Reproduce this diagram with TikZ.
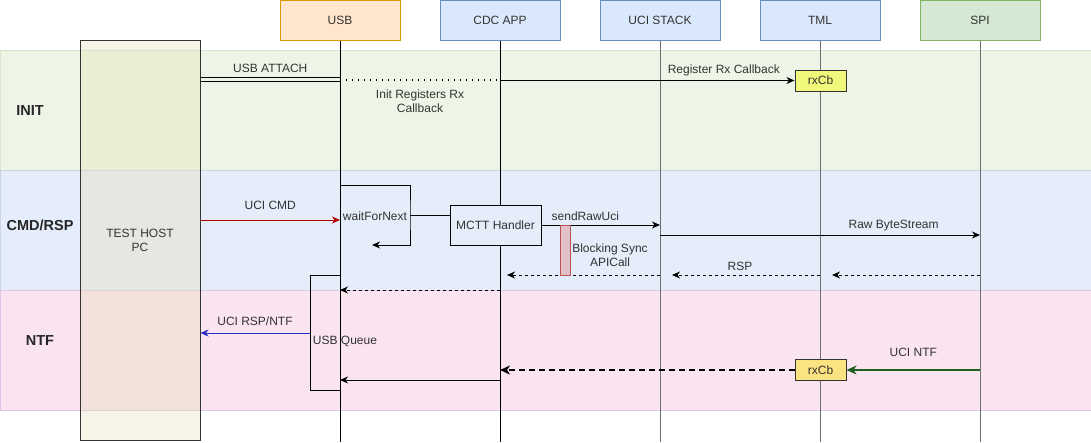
\documentclass[tikz,border=0pt]{standalone}
\usepackage{fontspec}
\setmainfont{Liberation Sans}
\usetikzlibrary{shapes,arrows.meta}
\definecolor{fondinit}{HTML}{EEF4E6}
\definecolor{bordinit}{HTML}{D8E5CC}
\definecolor{fondcmd}{HTML}{E5ECFA}
\definecolor{bordcmd}{HTML}{C8D6E2}
\definecolor{fondntf}{HTML}{FAE4F0}
\definecolor{bordntf}{HTML}{DCC8E6}
\definecolor{fondhote}{HTML}{E6E0B8}
\definecolor{fondusb}{HTML}{FFE6CC}
\definecolor{bordusb}{HTML}{D79B00}
\definecolor{fondbleu}{HTML}{DAE8FC}
\definecolor{bordbleu}{HTML}{6C8EBF}
\definecolor{fondvert}{HTML}{D5E8D4}
\definecolor{bordvert}{HTML}{82B366}
\definecolor{rappeljaune}{HTML}{F0F77A}
\definecolor{rappelor}{HTML}{FBE381}
\definecolor{blocrose}{HTML}{E3C1CB}
\definecolor{blocbord}{HTML}{B85450}
\definecolor{flecherouge}{HTML}{B20000}
\definecolor{flechebleue}{HTML}{2B2BC8}
\definecolor{flecheverte}{HTML}{1E5E1E}
\definecolor{texte}{HTML}{333333}
\definecolor{grisvie}{HTML}{6E6E6E}

\begin{document}
\begin{tikzpicture}[x=1pt,y=-1pt,font=\fontsize{12}{14}\selectfont,text=texte]
 \useasboundingbox (0,0) rectangle (1091,442);
 % style des noeuds
  \tikzstyle{bande}=[rectangle,inner sep=0pt,minimum width=1091pt,minimum height=120pt,anchor=north west]
  \tikzstyle{phase}=[font=\fontsize{14.5}{16}\selectfont\bfseries,text=black!85]
  \tikzstyle{acteur}=[rectangle,draw,line width=1pt,minimum width=120pt,minimum height=40pt]
  \tikzstyle{hote}=[rectangle,draw=black!80,line width=1pt,fill=fondhote,fill opacity=0.35,text opacity=1,minimum width=120pt,minimum height=400pt,align=center]
  \tikzstyle{rappel}=[rectangle,draw=black!80,line width=1pt,minimum width=51pt,minimum height=21pt,inner sep=0pt]
  \tikzstyle{boite}=[rectangle,draw=black,line width=1pt,fill=fondcmd,minimum width=91pt,minimum height=40pt]
  \tikzstyle{bloc}=[rectangle,draw=blocbord,fill=blocrose,line width=1pt,minimum width=10pt,minimum height=50pt,inner sep=0pt]
  \tikzstyle{file}=[rectangle,draw=black,line width=1pt,minimum width=30pt,minimum height=115pt,inner sep=0pt]
 % style des fleches
  \tikzstyle{vie}=[draw=grisvie,line width=1pt]
  \tikzstyle{suite}=[-{Stealth[length=8pt,width=7pt,inset=2.5pt]},line width=1pt]
  \tikzstyle{reponse}=[suite,dash pattern=on 3pt off 3pt]
  \tikzstyle{attache}=[double=fondinit,double distance=3pt,line width=1pt]
  \tikzstyle{pointille}=[line width=1.3pt,dash pattern=on 1.3pt off 4.7pt]
 % bandes des phases
  \node[bande,fill=fondinit,draw=bordinit] (binit) at (0,50) {};
  \node[bande,fill=fondcmd,draw=bordcmd] (bcmd) at (0,170) {};
  \node[bande,fill=fondntf,draw=bordntf] (bntf) at (0,290) {};
  \node[phase] (linit) at (30,111) {INIT};
  \node[phase] (lcmd) at (40,225) {CMD/RSP};
  \node[phase] (lntf) at (40,341) {NTF};
 % hote et acteurs
  \node[hote] (pc) at (140,240) {TEST HOST\\PC};
  \node[acteur,fill=fondusb,draw=bordusb] (usb) at (340,20) {USB};
  \node[acteur,fill=fondbleu,draw=bordbleu] (cdc) at (500,20) {CDC APP};
  \node[acteur,fill=fondbleu,draw=bordbleu] (uci) at (660,20) {UCI STACK};
  \node[acteur,fill=fondbleu,draw=bordbleu] (tml) at (820,20) {TML};
  \node[acteur,fill=fondvert,draw=bordvert] (spi) at (980,20) {SPI};
 % lignes de vie
  \draw[vie,draw=black] (usb) -- (usb |- 0,442);
  \draw[vie,draw=black] (cdc) -- (cdc |- 0,442);
  \draw[vie] (uci) -- (uci |- 0,442);
  \draw[vie] (tml) -- (tml |- 0,442);
  \draw[vie] (spi) -- (spi |- 0,442);
 % phase INIT
  \draw[attache] (pc.east |- 0,79) -- (usb |- 0,79) node[midway,above=3pt]{USB ATTACH};
  \draw[pointille] (usb |- 0,80) -- (cdc |- 0,80) node[midway,below=6pt,align=center]{Init Registers Rx\\Callback};
  \node[rappel,fill=rappeljaune] (rxa) at (820.5,80.5) {rxCb};
  \draw[suite] (cdc |- rxa.west) -- (rxa.west) node[pos=0.76,above=1pt]{Register Rx Callback};
 % phase CMD/RSP
  \draw[suite,draw=flecherouge] (pc.east |- 0,220) -- (usb |- 0,220) node[midway,above=7pt]{UCI CMD};
  \coordinate (cote) at (410,215);
  \coordinate (retour) at (372,245);
  \draw[suite] (usb |- 0,185) -| (cote) -- (cote |- retour) -- (retour);
  \node (lattente) at (375,216) {waitForNext};
  \node[boite] (mctt) at (495.5,225) {MCTT Handler};
  \draw[line width=1pt] (cote) -- (mctt.west |- cote);
  \draw[suite] (mctt.east) -- (uci |- mctt.east) node[pos=0.37,above=1pt]{sendRawUci};
  \draw[suite] (uci |- 0,235) -- (spi |- 0,235) node[pos=0.73,above=0pt]{Raw ByteStream};
  \draw[reponse,shorten >=12pt] (spi |- 0,275) -- (tml |- 0,275);
  \draw[reponse,shorten >=12pt] (tml |- 0,275) -- (uci |- 0,275) node[midway,above=1pt]{RSP};
  \draw[reponse,shorten >=7pt] (uci |- 0,275) -- (cdc |- 0,275);
  \node[bloc] (blocage) at (565,250) {};
  \node[align=center] (lblocage) at (610,255.5) {Blocking Sync\\APICall};
  \draw[reponse] (cdc |- 0,290) -- (usb |- 0,290);
 % phase NTF
  \node[file] (fileusb) at (325,332.5) {};
  \node (lfile) at (345,341) {USB Queue};
  \draw[suite,draw=flechebleue] (fileusb.west |- 0,333) -- (pc.east |- 0,333) node[midway,above=4pt]{UCI RSP/NTF};
  \draw[suite] (cdc |- 0,380) -- (usb |- 0,380);
  \node[rappel,fill=rappelor] (rxb) at (820.5,370) {rxCb};
  \draw[suite,draw=flecheverte,line width=2pt,-{Stealth[length=10pt,width=9pt,inset=3pt]}] (spi |- rxb.east) -- (rxb.east) node[midway,above=9pt]{UCI NTF};
  \draw[reponse,line width=2pt,dash pattern=on 6pt off 4pt,-{Stealth[length=10pt,width=9pt,inset=3pt]}] (rxb.west) -- (cdc |- rxb.west);
\end{tikzpicture}
\end{document}
